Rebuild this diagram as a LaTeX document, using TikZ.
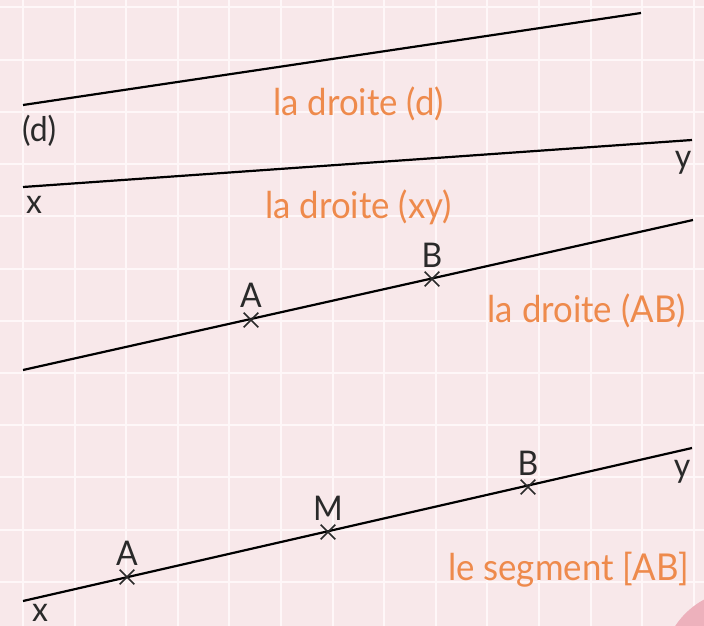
\documentclass[tikz,border=0pt]{standalone}
\usepackage{fontspec}
\setmainfont{Lato}[FakeStretch=0.94]
\usetikzlibrary{shapes.misc}
\definecolor{bgpink}{HTML}{F8E8EA}
\definecolor{gridwhite}{HTML}{FEF7F8}
\definecolor{orangelbl}{HTML}{EE8A4C}
\definecolor{inkdark}{HTML}{2A2A2A}
\definecolor{blobpink}{HTML}{EDB1BC}
\tikzset{
  ligne/.style={line width=2.2pt, draw=black},
  croix/.style={cross out, draw=inkdark, line width=1.6pt, minimum size=13pt, inner sep=0pt},
  lettre/.style={text=inkdark, inner sep=0pt, font=\fontsize{34}{36}\selectfont},
  titre/.style={text=orangelbl, inner sep=0pt, font=\fontsize{37}{40}\selectfont},
  grille/.style={gridwhite, line width=2pt}
}
\begin{document}
\begin{tikzpicture}[x=1pt,y=-1pt]
\fill[bgpink] (0,0) rectangle (704,626);
\useasboundingbox (0,0) rectangle (704,626);
\foreach \i in {0,...,13} \draw[grille] ({23+51.6*\i},0) -- ({23+51.6*\i},626);
\foreach \j in {0,...,11} \draw[grille] (0,{7.5+52.2*\j}) -- (704,{7.5+52.2*\j});
\begin{scope}
\clip (0,0) rectangle (704,626);
\fill[blobpink] (742,670) circle (80);
\end{scope}

% line (d)
\coordinate (d1) at (23,105);
\coordinate (d2) at (641,13);
\draw[ligne] (d1) -- (d2);
\node[lettre, anchor=base west] (ld) at (22,141) {(d)};
\node[titre, anchor=base west] (td) at (273,115) {la droite (d)};

% line (xy)
\coordinate (x1) at (23,187);
\coordinate (y1) at (692,140);
\draw[ligne] (x1) -- (y1);
\node[lettre, anchor=base] (lx1) at (34,213) {x};
\node[lettre, anchor=base] (ly1) at (683,168) {y};
\node[titre, anchor=base west] (txy) at (265,218) {la droite (xy)};

% line (AB)
\coordinate (p1) at (23,370);
\coordinate (p2) at (693,220);
\draw[ligne] (p1) -- (p2);
\node[croix] (A1) at (251,320) {};
\node[croix] (B1) at (432,279) {};
\node[lettre, anchor=base] (lA1) at ([yshift=13pt]A1) {A};
\node[lettre, anchor=base] (lB1) at ([yshift=12pt]B1) {B};
\node[titre, anchor=base east] (tAB) at (686,322) {la droite (AB)};

% segment [AB]
\coordinate (x2) at (23,601);
\coordinate (y2) at (692,448);
\draw[ligne] (x2) -- (y2);
\node[croix] (A2) at (127,577) {};
\node[croix] (M2) at (328,532) {};
\node[croix] (B2) at (528,487) {};
\node[lettre, anchor=base] (lA2) at ([yshift=12pt]A2) {A};
\node[lettre, anchor=base] (lM2) at ([yshift=12pt]M2) {M};
\node[lettre, anchor=base] (lB2) at ([yshift=12pt]B2) {B};
\node[lettre, anchor=base] (lx2) at (40,621) {x};
\node[lettre, anchor=base] (ly2) at (682,477) {y};
\node[titre, anchor=base east] (tseg) at (689,580) {le segment [AB]};
\end{tikzpicture}
\end{document}
